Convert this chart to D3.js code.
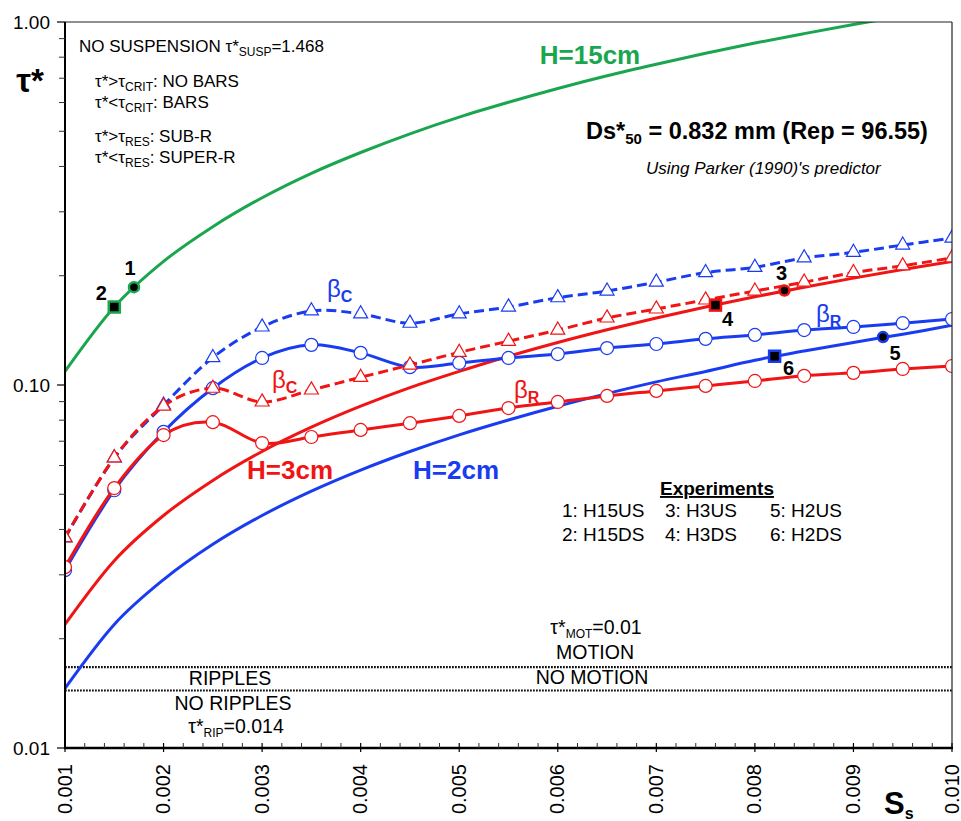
<!DOCTYPE html>
<html>
<head>
<meta charset="utf-8">
<script src="https://cdn.jsdelivr.net/npm/d3@7"></script>
<style>
  html, body { margin: 0; padding: 0; background: #fff; }
  svg { display: block; font-family: "Liberation Sans", Arial, sans-serif; }
</style>
</head>
<body>
<svg id="chart" width="961" height="821"></svg>
<script>
// Slope grid used for the bedform criteria curves
const slopes = [0.001, 0.0015, 0.002, 0.0025, 0.003, 0.0035, 0.004, 0.0045, 0.005, 0.0055,
                0.006, 0.0065, 0.007, 0.0075, 0.008, 0.0085, 0.009, 0.0095, 0.010];

// Shields stress for each flow depth
const tauH15 = [0.109, 0.164, 0.219, 0.273, 0.328, 0.383, 0.437, 0.492, 0.547, 0.601,
                0.656, 0.711, 0.765, 0.820, 0.875, 0.929, 0.984, 1.04];
const tauH3  = [0.0219, 0.0328, 0.0437, 0.0546, 0.0656, 0.0765, 0.0874, 0.0983, 0.109, 0.120,
                0.131, 0.142, 0.153, 0.164, 0.175, 0.186, 0.197, 0.208, 0.219];
const tauH2  = [0.0146, 0.0219, 0.0291, 0.0364, 0.0437, 0.0510, 0.0583, 0.0656, 0.0729, 0.0801,
                0.0874, 0.0947, 0.102, 0.109, 0.117, 0.124, 0.131, 0.138, 0.146];

// Critical (bars) and resonant thresholds, H = 2 cm (blue) and H = 3 cm (red)
const betaC_H2 = [0.0379, 0.063, 0.088, 0.119, 0.1445, 0.160, 0.157, 0.148, 0.157, 0.164,
                  0.174, 0.1815, 0.192, 0.204, 0.211, 0.224, 0.232, 0.243, 0.254];
const betaR_H2 = [0.0309, 0.0513, 0.0743, 0.098, 0.1187, 0.129, 0.1226, 0.112, 0.115, 0.1187,
                  0.1217, 0.1264, 0.1297, 0.134, 0.1374, 0.1417, 0.1445, 0.148, 0.152];
const betaC_H3 = [0.038, 0.063, 0.0875, 0.098, 0.0898, 0.0969, 0.105, 0.1135, 0.123, 0.132,
                  0.1417, 0.153, 0.162, 0.1715, 0.1815, 0.192, 0.204, 0.213, 0.224];
const betaR_H3 = [0.0315, 0.052, 0.0728, 0.079, 0.0692, 0.0719, 0.0752, 0.0785, 0.0822, 0.0864,
                  0.0898, 0.0933, 0.0963, 0.0994, 0.1026, 0.106, 0.108, 0.1107, 0.1128];

// Experiments
const expIds   = ["1", "2", "3", "4", "5", "6"];
const expSlope = [0.0017, 0.0015, 0.0083, 0.0076, 0.0093, 0.0082];
const expTau   = [0.186, 0.164, 0.182, 0.166, 0.1355, 0.120];
const expDepth = ["H15", "H15", "H3", "H3", "H2", "H2"];
const expShape = ["circle", "square", "circle", "square", "circle", "square"];

// Threshold lines
const tauMotionLine = 0.0167;
const tauRippleLine = 0.0144;

// Axis ticks
const xTicks = [0.001, 0.002, 0.003, 0.004, 0.005, 0.006, 0.007, 0.008, 0.009, 0.010];
const xTickLabels = ["0.001", "0.002", "0.003", "0.004", "0.005", "0.006", "0.007", "0.008", "0.009", "0.010"];
const yTicks = [0.01, 0.1, 1];
const yTickLabels = ["0.01", "0.10", "1.00"];

const GREEN = "#1aa64f", BLUE = "#1a3cf0", RED = "#f01414";
const depthColor = { H15: GREEN, H3: RED, H2: BLUE };

const svg = d3.select("#chart");
const L = 65, R = 952, T = 22, B = 748;
const x = d3.scaleLinear().domain([0.001, 0.010]).range([L, R]);
const y = d3.scaleLog().domain([0.01, 1]).range([B, T]);

svg.append("defs").append("clipPath").attr("id", "plot")
  .append("rect").attr("x", L).attr("y", T).attr("width", R - L).attr("height", B - T);

const plot = svg.append("g").attr("clip-path", "url(#plot)");

// helper for text with subscripts: segments = [[text, "sub"|"n"], ...]
function richText(g, xPos, yPos, segs, opts) {
  const t = g.append("text").attr("x", xPos).attr("y", yPos)
    .attr("font-size", opts.size).attr("fill", opts.color || "#000")
    .attr("font-weight", opts.weight || "normal")
    .attr("font-style", opts.style || "normal")
    .attr("text-anchor", opts.anchor || "start");
  let shifted = false;
  segs.forEach(([s, kind]) => {
    const sp = t.append("tspan").text(s);
    if (kind === "sub") {
      sp.attr("font-size", opts.subSize || opts.size * 0.65)
        .attr("dy", shifted ? 0 : opts.subDy || 4);
      if (opts.subWeight) sp.attr("font-weight", opts.subWeight);
      shifted = true;
    } else if (shifted) {
      sp.attr("dy", -(opts.subDy || 4));
      shifted = false;
    }
  });
  return t;
}

// Threshold dotted lines
[tauMotionLine, tauRippleLine].forEach(v => {
  plot.append("line").attr("x1", L).attr("x2", R).attr("y1", y(v)).attr("y2", y(v))
    .attr("stroke", "#111").attr("stroke-width", 2.2).attr("stroke-dasharray", "1.8,1.2");
});

const smooth = d3.line().x(d => x(d[0])).y(d => y(d[1])).curve(d3.curveCardinal.tension(0));
const pairs = arr => arr.map((v, i) => [slopes[i], v]);

// Depth curves
plot.append("path").attr("d", smooth(pairs(tauH15))).attr("fill", "none")
  .attr("stroke", GREEN).attr("stroke-width", 3);
plot.append("path").attr("d", smooth(pairs(tauH3))).attr("fill", "none")
  .attr("stroke", RED).attr("stroke-width", 3);
plot.append("path").attr("d", smooth(pairs(tauH2))).attr("fill", "none")
  .attr("stroke", BLUE).attr("stroke-width", 3);

// Threshold curves with markers
const triangle = d3.symbol().type(d3.symbolTriangle).size(85);
function betaSeries(values, color, dashed, marker) {
  const g = plot.append("g");
  g.append("path").attr("d", smooth(pairs(values))).attr("fill", "none")
    .attr("stroke", color).attr("stroke-width", 3)
    .attr("stroke-dasharray", dashed ? "10,5" : null);
  const pts = g.selectAll(".m").data(pairs(values)).enter();
  if (marker === "circle") {
    pts.append("circle").attr("cx", d => x(d[0])).attr("cy", d => y(d[1])).attr("r", 6.5)
      .attr("fill", "#fff").attr("stroke", color).attr("stroke-width", 1.2);
  } else {
    pts.append("path").attr("d", triangle)
      .attr("transform", d => `translate(${x(d[0])},${y(d[1])})`)
      .attr("fill", "#fff").attr("stroke", color).attr("stroke-width", 1.2);
  }
}
betaSeries(betaC_H2, BLUE, true, "triangle");
betaSeries(betaR_H2, BLUE, false, "circle");
betaSeries(betaC_H3, RED, true, "triangle");
betaSeries(betaR_H3, RED, false, "circle");

// Experiment points
const expG = svg.append("g");
expIds.forEach((id, i) => {
  const cx = x(expSlope[i]), cy = y(expTau[i]), col = depthColor[expDepth[i]];
  if (expShape[i] === "circle") {
    expG.append("circle").attr("cx", cx).attr("cy", cy).attr("r", 5)
      .attr("fill", "#000").attr("stroke", col).attr("stroke-width", 2.5);
  } else {
    expG.append("rect").attr("x", cx - 5.5).attr("y", cy - 5.5).attr("width", 11).attr("height", 11)
      .attr("fill", "#000").attr("stroke", col).attr("stroke-width", 2.5);
  }
});
const expLabelOffset = [[-4, -12], [-13, -7], [-3, -11], [12, 21], [12, 23], [14, 19]];
expIds.forEach((id, i) => {
  expG.append("text").attr("x", x(expSlope[i]) + expLabelOffset[i][0])
    .attr("y", y(expTau[i]) + expLabelOffset[i][1])
    .attr("text-anchor", "middle").attr("font-size", 20).attr("font-weight", "bold").text(id);
});

// Frame and axes
svg.append("line").attr("x1", L).attr("x2", R).attr("y1", T).attr("y2", T).attr("stroke", "#222").attr("stroke-width", 1.2);
svg.append("line").attr("x1", R).attr("x2", R).attr("y1", T).attr("y2", B).attr("stroke", "#222").attr("stroke-width", 1.2);
svg.append("line").attr("x1", L).attr("x2", L).attr("y1", T).attr("y2", B).attr("stroke", "#000").attr("stroke-width", 2);
svg.append("line").attr("x1", L - 1).attr("x2", R + 1).attr("y1", B).attr("y2", B).attr("stroke", "#000").attr("stroke-width", 2.5);

// y ticks (log)
const yMinor = [];
[0.01, 0.1].forEach(dec => { for (let k = 2; k <= 9; k++) yMinor.push(dec * k); });
svg.selectAll(".ymin").data(yMinor).enter().append("line")
  .attr("x1", L - 6).attr("x2", L).attr("y1", d => y(d)).attr("y2", d => y(d))
  .attr("stroke", "#333").attr("stroke-width", 1);
yTicks.forEach((v, i) => {
  svg.append("line").attr("x1", L - 8).attr("x2", L).attr("y1", y(v)).attr("y2", y(v))
    .attr("stroke", "#000").attr("stroke-width", 1.2);
  svg.append("text").attr("x", L - 15).attr("y", y(v) + 7).attr("text-anchor", "end")
    .attr("font-size", 19).text(yTickLabels[i]);
});

// x ticks
const xMinor = d3.range(1, 46).map(k => 0.001 + k * 0.0002).filter(v => Math.abs(v * 1000 - Math.round(v * 1000)) > 1e-6);
svg.selectAll(".xmin").data(xMinor).enter().append("line")
  .attr("x1", d => x(d)).attr("x2", d => x(d)).attr("y1", B - 5).attr("y2", B)
  .attr("stroke", "#333").attr("stroke-width", 1);
xTicks.forEach((v, i) => {
  svg.append("line").attr("x1", x(v)).attr("x2", x(v)).attr("y1", B - 5).attr("y2", B + 4)
    .attr("stroke", "#000").attr("stroke-width", 1.2);
  svg.append("text").attr("transform", `translate(${x(v) + 6.5},${B + 16}) rotate(-90)`)
    .attr("text-anchor", "end").attr("font-size", 20).text(xTickLabels[i]);
});

// Axis titles
svg.append("text").attr("x", 30).attr("y", 92).attr("text-anchor", "middle")
  .attr("font-size", 33).attr("font-weight", "bold").text("τ*");
richText(svg, 884, 814, [["S", "n"], ["s", "sub"]], { size: 31, weight: "bold", subSize: 16, subDy: 5 });

// Curve labels
svg.append("text").attr("x", 590).attr("y", 64).attr("text-anchor", "middle")
  .attr("font-size", 26).attr("font-weight", "bold").attr("fill", GREEN).text("H=15cm");
svg.append("text").attr("x", 290).attr("y", 479).attr("text-anchor", "middle")
  .attr("font-size", 26).attr("font-weight", "bold").attr("fill", RED).text("H=3cm");
svg.append("text").attr("x", 456).attr("y", 479).attr("text-anchor", "middle")
  .attr("font-size", 26).attr("font-weight", "bold").attr("fill", BLUE).text("H=2cm");

const betaOpts = c => ({ size: 24, color: c, subSize: 16, subDy: 5, subWeight: "bold" });
richText(svg, 327, 297, [["β", "n"], ["C", "sub"]], betaOpts(BLUE));
richText(svg, 272, 388, [["β", "n"], ["C", "sub"]], betaOpts(RED));
richText(svg, 514, 398, [["β", "n"], ["R", "sub"]], betaOpts(RED));
richText(svg, 816, 322, [["β", "n"], ["R", "sub"]], betaOpts(BLUE));

// Regime notes
const note = { size: 17, subSize: 12, subDy: 4 };
richText(svg, 79, 52, [["NO SUSPENSION  τ*", "n"], ["SUSP", "sub"], ["=1.468", "n"]], note);
richText(svg, 95, 87, [["τ*>τ", "n"], ["CRIT", "sub"], [": NO BARS", "n"]], note);
richText(svg, 95, 108, [["τ*<τ", "n"], ["CRIT", "sub"], [": BARS", "n"]], note);
richText(svg, 95, 142, [["τ*>τ", "n"], ["RES", "sub"], [": SUB-R", "n"]], note);
richText(svg, 95, 163, [["τ*<τ", "n"], ["RES", "sub"], [": SUPER-R", "n"]], note);

richText(svg, 586, 139, [["Ds*", "n"], ["50", "sub"], [" = 0.832 mm (Rep = 96.55)", "n"]],
  { size: 23.5, weight: "bold", subSize: 15, subDy: 5 });
svg.append("text").attr("x", 646).attr("y", 174).attr("font-size", 17).attr("font-style", "italic")
  .text("Using Parker (1990)'s predictor");

// Experiments legend
svg.append("text").attr("x", 717).attr("y", 495).attr("text-anchor", "middle")
  .attr("font-size", 19).attr("font-weight", "bold").attr("text-decoration", "underline").text("Experiments");
const legendCols = [562, 665, 770];
const legendRows = [517, 541];
expIds.forEach((id, i) => {
  const col = Math.floor(i / 2), row = i % 2;
  const suffix = expShape[i] === "circle" ? "US" : "DS";
  svg.append("text").attr("x", legendCols[col]).attr("y", legendRows[row]).attr("font-size", 19)
    .text(`${id}: ${expDepth[i]}${suffix}`);
});

// Threshold annotations
const annot = { size: 19.5, subSize: 12, subDy: 3.5, anchor: "middle" };
richText(svg, 596, 634, [["τ*", "n"], ["MOT", "sub"], ["=0.01", "n"]], annot);
svg.append("text").attr("x", 595).attr("y", 659).attr("text-anchor", "middle").attr("font-size", 19.5).text("MOTION");
svg.append("text").attr("x", 592).attr("y", 684).attr("text-anchor", "middle").attr("font-size", 19.5).text("NO MOTION");
svg.append("text").attr("x", 230).attr("y", 685).attr("text-anchor", "middle").attr("font-size", 19.5).text("RIPPLES");
svg.append("text").attr("x", 233).attr("y", 710).attr("text-anchor", "middle").attr("font-size", 19.5).text("NO RIPPLES");
richText(svg, 236, 733, [["τ*", "n"], ["RIP", "sub"], ["=0.014", "n"]], annot);
</script>
</body>
</html>
